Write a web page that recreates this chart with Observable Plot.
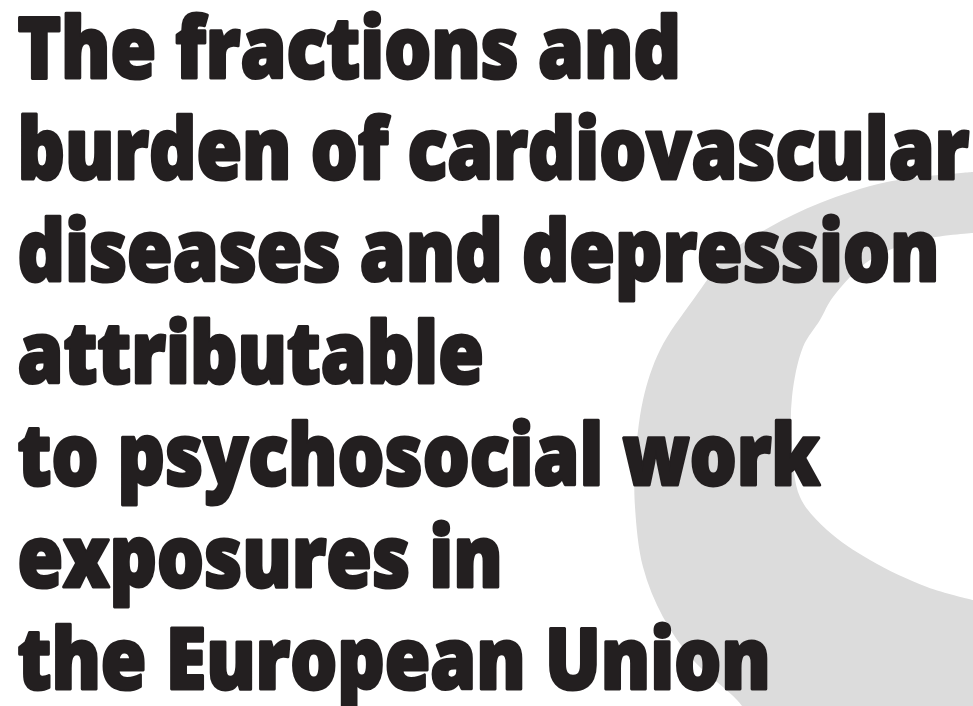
<!DOCTYPE html>
<html>
<head>
<meta charset="utf-8">
<script src="https://cdn.jsdelivr.net/npm/d3@7"></script>
<script src="https://cdn.jsdelivr.net/npm/@observablehq/plot@0.6"></script>
<style>
  html, body { margin: 0; padding: 0; background: #ffffff; overflow: hidden; }
  #chart svg { display: block; }
</style>
</head>
<body>
<div id="chart"></div>
<script>
// ---- content ----
const titleLines = [
  "The fractions and",
  "burden of cardiovascular",
  "diseases and depression",
  "attributable",
  "to psychosocial work",
  "exposures in",
  "the European Union"
];

// outer edge of the grey crescent (page pixels)
const outerEdgeY = [172, 182, 203, 227, 253, 300, 350, 400, 467, 507, 567, 617, 660, 700, 720];
const outerEdgeX = [973, 887, 820, 770, 730, 693, 660, 643, 635, 635, 643, 663, 693, 737, 752];

// inner (white) edge of the crescent (page pixels)
const innerEdgeY = [233, 240, 260, 297, 320, 347, 397, 447, 497, 530, 560, 587, 600];
const innerEdgeX = [973, 920, 870, 833, 820, 803, 792, 792, 800, 827, 870, 927, 973];

// ---- layout ----
const pageWidth = 973, pageHeight = 706;
const outer = outerEdgeY.map((y, i) => ({y, x: outerEdgeX[i]}));
const inner = innerEdgeY.map((y, i) => ({y, x: innerEdgeX[i]}));

const fontSize = 85;
const lineStep = 102;
const firstBaseline = 77;
const leftEdge = 17;

const svg = Plot.plot({
  width: pageWidth,
  height: pageHeight,
  margin: 0,
  x: {domain: [0, pageWidth], range: [0, pageWidth], axis: null},
  y: {domain: [0, pageHeight], range: [0, pageHeight], axis: null},
  style: {background: "#ffffff", overflow: "hidden"},
  marks: [
    Plot.areaX(outer, {y: "y", x1: "x", x2: pageWidth + 20, fill: "#dcdcdc", curve: "catmull-rom"}),
    Plot.areaX(inner, {y: "y", x1: "x", x2: pageWidth + 20, fill: "#ffffff", curve: "catmull-rom"}),
    Plot.text([titleLines.join("\n")], {
      frameAnchor: "top-left",
      textAnchor: "start",
      lineAnchor: "top",
      lineHeight: lineStep / fontSize,
      dx: leftEdge,
      dy: firstBaseline - 0.71 * lineStep,
      fontSize: fontSize,
      fontWeight: 800,
      fontFamily: "'Open Sans', 'Noto Sans', sans-serif",
      fill: "#231f20",
      stroke: "#231f20",
      strokeWidth: 3,
      strokeLinejoin: "round"
    })
  ]
});
document.getElementById("chart").appendChild(svg);

// condense the title horizontally so that its longest line spans the same width as in the original
const textGroup = svg.querySelector('g[aria-label="text"]');
const spans = Array.from(textGroup.querySelectorAll("tspan"));
const longest = d3.max(spans, s => s.getComputedTextLength());
const targetWidth = 952;
const k = targetWidth / longest;
const existing = textGroup.getAttribute("transform") || "";
textGroup.setAttribute("transform", `translate(${leftEdge * (1 - k)},0) scale(${k},1) ${existing}`);
</script>
</body>
</html>
